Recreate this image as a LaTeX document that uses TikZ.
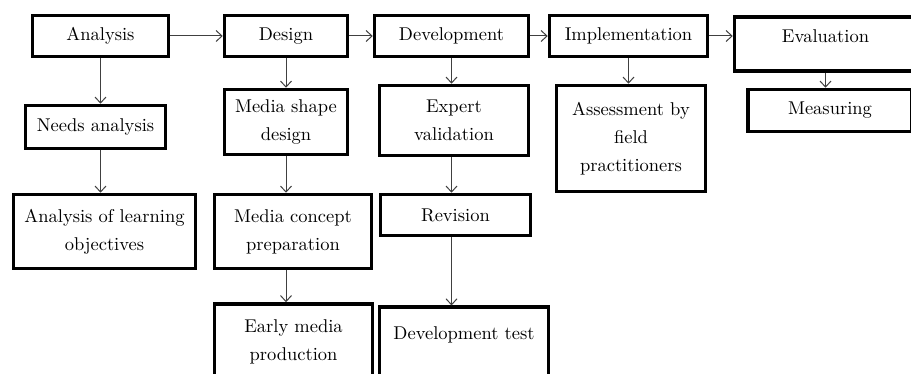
\documentclass[tikz,border=0pt]{standalone}
\usepackage{fontspec}
\setmainfont{lmroman10-regular.otf}
\usetikzlibrary{arrows.meta}

\begin{document}
\begin{tikzpicture}[x=1pt, y=-1pt,
    box/.style={rectangle, draw=black, line width=3.5pt, fill=white,
        inner sep=0pt, align=center, font=\fontsize{18.5}{28}\selectfont},
    arr/.style={line width=1pt, draw=black!75,
        -{Straight Barb[length=6pt, width=11pt]}}
]
    \clip (0,0) rectangle (911,374);
    \node[box, minimum width=136pt, minimum height=41pt] (ana) at (100.5,36) {Analysis};
    \node[box, minimum width=140pt, minimum height=43pt] (needs) at (95.5,127) {Needs analysis};
    \node[box, minimum width=182pt, minimum height=74pt] (obj) at (104.5,231.5) {Analysis of learning\\objectives};
    \node[box, minimum width=123pt, minimum height=41pt] (des) at (286,36) {Design};
    \node[box, minimum width=123pt, minimum height=65pt] (shape) at (286,122) {Media shape\\design};
    \node[box, minimum width=157pt, minimum height=74pt] (concept) at (293,231.5) {Media concept\\preparation};
    \node[box, minimum width=158pt, minimum height=76pt] (early) at (293.5,342) {Early media\\production};
    \node[box, minimum width=154pt, minimum height=41pt] (dev) at (451.5,36) {Development};
    \node[box, minimum width=149pt, minimum height=70pt] (expert) at (454,120.5) {Expert\\validation};
    \node[box, minimum width=150pt, minimum height=41pt] (rev) at (455.5,215) {Revision};
    \node[box, minimum width=169pt, anchor=north, text height=32.5pt, text depth=50pt] (test) at (464,305.5) {Development test};
    \node[box, minimum width=158pt, minimum height=41pt] (imp) at (628.5,36) {Implementation};
    \node[box, minimum width=149pt, minimum height=106pt] (assess) at (631,138.5) {Assessment by\\field\\practitioners};
    \node[box, minimum width=182pt, anchor=north, text height=25.5pt, text depth=28.5pt] (eva) at (825.5,15.5) {Evaluation};
    \node[box, minimum width=164pt, minimum height=42pt] (meas) at (830,110.5) {Measuring};

    \draw[arr] (ana) -- (des);
    \draw[arr] (des) -- (dev);
    \draw[arr] (dev) -- (imp);
    \draw[arr] (imp.east) -- (imp.east -| eva.west);
    \draw[arr] (ana) -- (ana |- needs.north);
    \draw[arr] (needs.south -| ana) -- (obj.north -| ana);
    \draw[arr] (des) -- (des |- shape.north);
    \draw[arr] (shape.south -| des) -- (concept.north -| des);
    \draw[arr] (concept.south -| des) -- (early.north -| des);
    \draw[arr] (dev) -- (dev |- expert.north);
    \draw[arr] (expert.south -| dev) -- (rev.north -| dev);
    \draw[arr] (rev.south -| dev) -- (test.north -| dev);
    \draw[arr] (imp) -- (imp |- assess.north);
    \draw[arr] (eva) -- (eva |- meas.north);
\end{tikzpicture}
\end{document}
